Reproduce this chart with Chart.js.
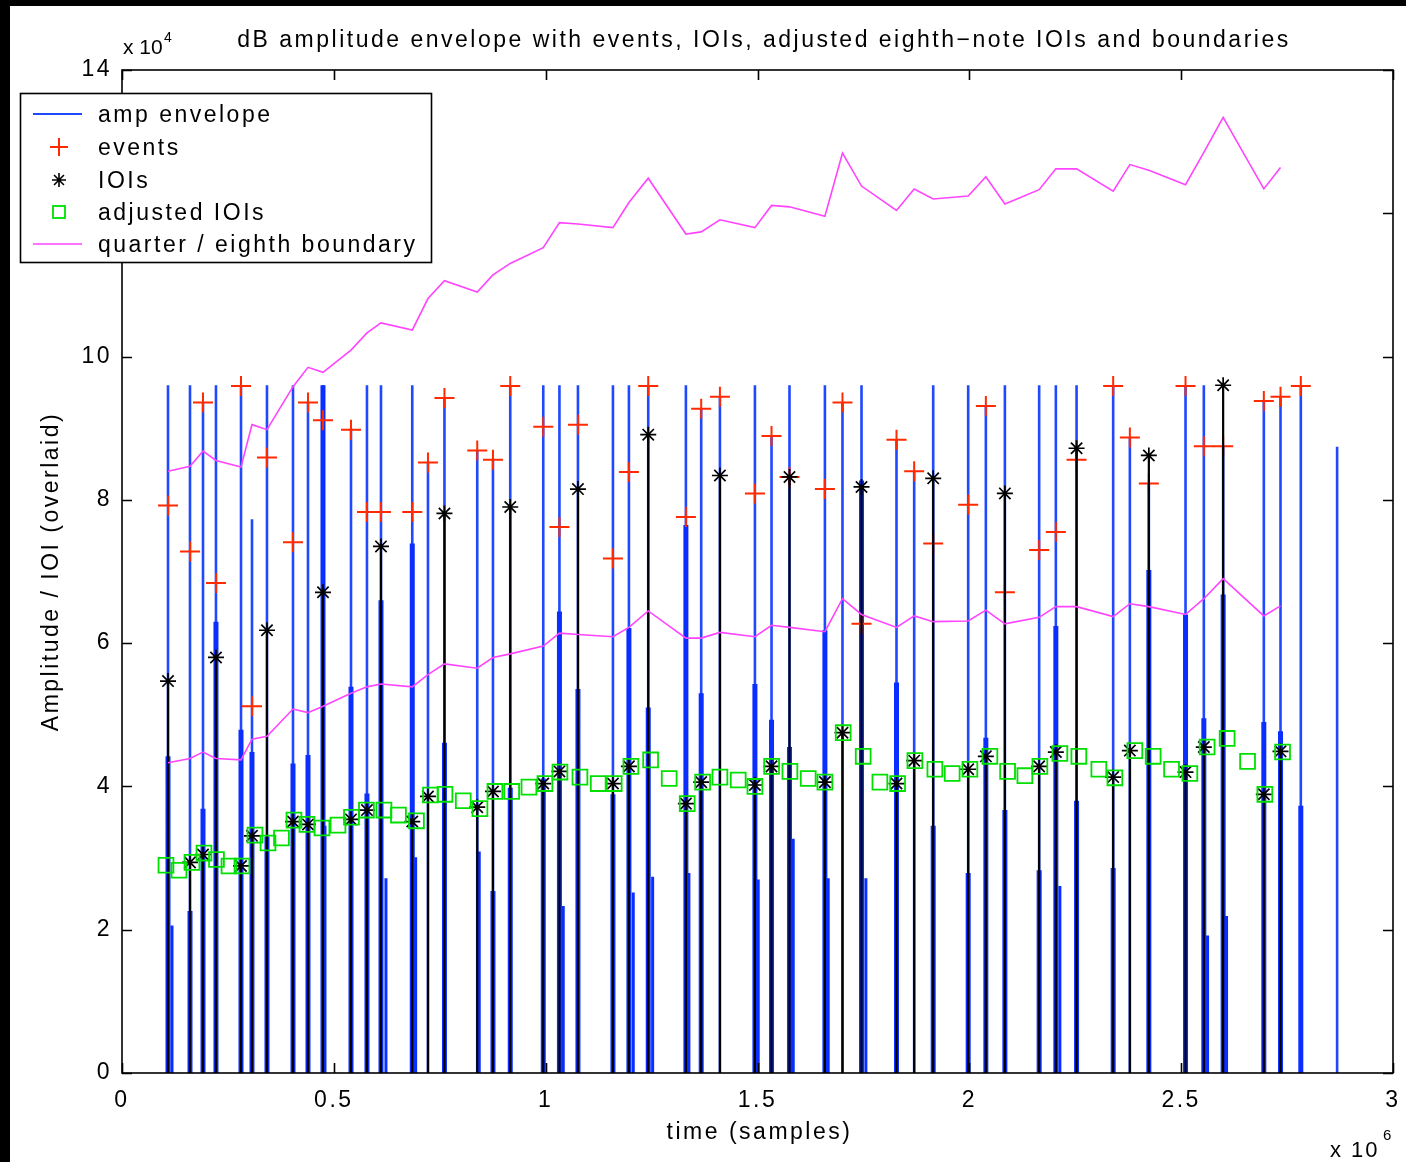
<!DOCTYPE html>
<html>
<head>
<meta charset="utf-8">
<script src="https://cdn.jsdelivr.net/npm/chart.js@4.4.1/dist/chart.umd.min.js"></script>
<style>
  html, body { margin: 0; padding: 0; background: #000; width: 1406px; height: 1162px; overflow: hidden; }
  #wrap { position: absolute; left: 10px; top: 6px; width: 1396px; height: 1156px; background: #fff; }
  canvas { display: block; }
</style>
</head>
<body>
<div id="wrap"><canvas id="c" width="1396" height="1156"></canvas></div>
<script>
// ---- data (time in samples, amplitude / IOI in raw units) ----
const xTickLabels = ['0', '0.5', '1', '1.5', '2', '2.5', '3'];
const yTickLabels = ['0', '2', '4', '6', '8', '10', '12', '14'];

// onsets found in the amplitude envelope
const onsetTimes = [108600, 160500, 191200, 221800, 280900, 306800, 342200, 403600, 439000, 474400,
  540500, 578200, 611300, 685100, 722200, 761100, 838500, 875600, 916400, 994300,
  1032500, 1076200, 1158800, 1196500, 1242100, 1331000, 1367100, 1411300, 1493900, 1533100,
  1575500, 1659100, 1700600, 1745500, 1828100, 1869800, 1914700, 1997300, 2039000, 2083900,
  2164800, 2204200, 2253100, 2339500, 2378900, 2423700, 2510300, 2553500, 2599100, 2695100,
  2734500, 2782400, 2868100];

// envelope peak at each onset
const envPeak = [96000, 96000, 93600, 96000, 96000, 77300, 96000, 96000, 93600, 96000,
  90000, 96000, 96000, 96000, 85300, 94200, 86900, 85600, 96000, 96000,
  96000, 96000, 96000, 96000, 96000, 96000, 92700, 94400, 96000, 88900,
  96000, 96000, 93600, 96000, 88400, 84000, 96000, 96000, 93100, 96000,
  96000, 96000, 96000, 96000, 88700, 82300, 96000, 96000, 87500, 93800,
  94400, 96000, 87400];

// dense decay samples just after each onset (0 = none)
const envBody = [44200, 22600, 36900, 63000, 47900, 44800, 33000, 43200, 44400, 96000,
  53900, 39000, 66000, 73900, 0, 46100, 0, 25400, 39800, 41100,
  64400, 53600, 38900, 62100, 51000, 76500, 53000, 0, 54300, 49300,
  45500, 61800, 0, 82700, 54500, 0, 34500, 27900, 46800, 36700,
  28300, 62400, 38000, 28600, 0, 70200, 64000, 49500, 66800, 49000,
  47700, 37300, 0];

// short secondary envelope bumps
const tailTimes = [118000, 479100, 623000, 693100, 843200, 1041500, 1206700, 1252500, 1338100,
  1501700, 1584300, 1666900, 1755800, 2213700, 2562300, 2607100];
const tailLevels = [20600, 34500, 27200, 30100, 30900, 23300, 25200, 27400, 27900,
  27000, 32700, 27200, 27200, 26100, 19200, 21900];

// detected events (amplitude at detection)
const eventLevels = [79200, 72800, 93600, 68400, 95900, 51200, 85900, 74100, 93600, 91100,
  89800, 78300, 78300, 78300, 85200, 94200, 86900, 85600, 95900, 90200,
  76200, 90500, 71800, 83900, 95900, 77600, 92700, 94400, 80900, 88900,
  83200, 81500, 93600, 62700, 88400, 84000, 73900, 79300, 93100, 67100,
  73000, 75500, 85600, 95900, 88700, 82300, 95900, 87500, 87500, 93800,
  94400, 95900];

// inter-onset intervals, plotted at the onset they start from
const ioiLevels = [54700, 29400, 30500, 58000, 28900, 33100, 61800, 35100, 34700, 67100,
  35400, 36700, 73500, 35100, 38600, 78100, 37100, 39300, 79000, 40400,
  42100, 81500, 40400, 42800, 89100, 37600, 40600, 83400, 40200, 42800,
  83200, 40600, 47500, 81800, 40400, 43600, 83000, 42400, 44200, 80900,
  42800, 44800, 87200, 41300, 45000, 86200, 42000, 45500, 96000, 38900,
  44900];

// IOIs adjusted to eighth notes
const adjTimes = [103800, 134500, 165200, 193500, 223000, 252500, 283200, 313900, 344600, 376400,
  405900, 436600, 472000, 509800, 541600, 577000, 618300, 652500, 695000, 728100,
  762300, 805500, 844900, 880300, 919700, 960500, 998300, 1033700, 1080900, 1124100,
  1161800, 1201200, 1247700, 1291600, 1334100, 1370500, 1411300, 1454500, 1493900, 1533300,
  1576500, 1619700, 1659100, 1702300, 1749500, 1788900, 1830700, 1871500, 1918700, 1959500,
  2001300, 2048500, 2090300, 2131100, 2166500, 2213700, 2258500, 2305700, 2343500, 2390700,
  2433900, 2477300, 2520500, 2561300, 2608500, 2656700, 2697500, 2739300];
const adjLevels = [29000, 28300, 29400, 30700, 29800, 28900, 28900, 33200, 32100, 32800,
  35300, 34700, 34200, 34600, 35700, 36700, 36700, 36000, 35200, 38800,
  38900, 38000, 36900, 39300, 39300, 39900, 40400, 42000, 41300, 40400,
  40400, 42800, 43700, 41100, 37600, 40600, 41300, 40900, 40000, 42800,
  42100, 41100, 40600, 47500, 44200, 40600, 40400, 43600, 42400, 41800,
  42400, 44200, 42100, 41500, 42800, 44600, 44200, 42400, 41200, 45000,
  44200, 42400, 41800, 45500, 46700, 43500, 38900, 44800];

// quarter / eighth boundaries (upper and lower curve)
const boundUpper = [84000, 84700, 86800, 85500, 84600, 90500, 89800, 95800, 98500, 97800,
  100900, 103300, 104700, 103700, 108100, 110600, 109000, 111400, 113000, 115200,
  118700, 118500, 118000, 121500, 124900, 117100, 117400, 119100, 118000, 121100,
  120900, 119600, 128400, 123800, 120400, 123400, 122000, 122400, 125100, 121300,
  123300, 126200, 126200, 123100, 126800, 126000, 124000, 128500, 133400, 123400,
  126400];
const boundLower = [43300, 43900, 44800, 43900, 43700, 46600, 47000, 50800, 50300, 51200,
  53000, 53900, 54300, 53900, 55600, 57100, 56500, 58000, 58500, 59600,
  61400, 61200, 60900, 62200, 64500, 60700, 60700, 61500, 60900, 62500,
  62200, 61600, 66200, 64000, 62200, 63800, 63000, 63100, 64600, 62700,
  63600, 65100, 65100, 63700, 65500, 65100, 64000, 66200, 69000, 63800,
  65200];

const titleText = 'dB amplitude envelope with events, IOIs, adjusted eighth\u2212note IOIs and boundaries';
const xTitle = 'time (samples)';
const yTitle = 'Amplitude / IOI (overlaid)';
const legendLabels = ['amp envelope', 'events', 'IOIs', 'adjusted IOIs', 'quarter / eighth boundary'];

// ---- styling ----
const FONT = '"Liberation Sans", Arial, Helvetica, sans-serif';
const FS = 23;
const LS = '2.5px';
const C_ENV = '#1f48ff', C_ENV_DARK = '#0a2eff', C_EVT = '#ff2a00', C_IOI = '#000000',
      C_ADJ = '#00e000', C_BND = '#ff44ff';

// vertical segments from 0 up to each level, separated by gaps
function stems(times, levels) {
  const pts = [];
  times.forEach((t, i) => {
    if (levels[i] > 0) pts.push({ x: t, y: 0 }, { x: t, y: levels[i] }, { x: t, y: null });
  });
  return pts;
}
const pairs = (times, levels) => levels.map((v, i) => ({ x: times[i], y: v }));

const lineDs = (data, color, width) => ({
  data, showLine: true, borderColor: color, borderWidth: width,
  pointRadius: 0, spanGaps: false, fill: false
});
const pointDs = (data, style, r, color, w) => ({
  data, showLine: false, pointStyle: style, pointRadius: r, pointHoverRadius: r,
  pointBorderColor: color, pointBorderWidth: w, pointBackgroundColor: 'rgba(0,0,0,0)'
});

// bottom-to-top drawing order
const layers = [
  lineDs(stems(onsetTimes, envPeak), C_ENV, 2.6),
  lineDs(stems(tailTimes, tailLevels), C_ENV_DARK, 3),
  lineDs(stems(onsetTimes, envBody), C_ENV_DARK, 5),
  pointDs(pairs(onsetTimes, eventLevels), 'cross', 10, C_EVT, 2),
  lineDs(stems(onsetTimes.slice(0, ioiLevels.length), ioiLevels), C_IOI, 2.2),
  pointDs(pairs(onsetTimes, ioiLevels), 'star', 8, C_IOI, 1.7),
  pointDs(pairs(adjTimes, adjLevels), 'rect', 10.5, C_ADJ, 1.8),
  lineDs(pairs(onsetTimes, boundUpper), C_BND, 1.6),
  lineDs(pairs(onsetTimes, boundLower), C_BND, 1.6)
];
layers.forEach((d, i) => { d.order = layers.length - i; });

const TICK = 10;

const frame = {
  id: 'frame',
  beforeDraw(chart) { chart.ctx.letterSpacing = LS; },
  afterDraw(chart) {
    const { ctx, chartArea: a, scales: { x, y } } = chart;
    ctx.save();
    ctx.letterSpacing = LS;
    // axes box and inward ticks
    ctx.strokeStyle = '#000';
    ctx.lineWidth = 1.6;
    ctx.strokeRect(a.left, a.top, a.right - a.left, a.bottom - a.top);
    ctx.beginPath();
    x.ticks.forEach(t => {
      const px = Math.round(x.getPixelForValue(t.value)) + 0.5;
      ctx.moveTo(px, a.bottom); ctx.lineTo(px, a.bottom - TICK);
      ctx.moveTo(px, a.top); ctx.lineTo(px, a.top + TICK);
    });
    y.ticks.forEach(t => {
      const py = Math.round(y.getPixelForValue(t.value)) + 0.5;
      ctx.moveTo(a.left, py); ctx.lineTo(a.left + TICK, py);
      ctx.moveTo(a.right, py); ctx.lineTo(a.right - TICK, py);
    });
    ctx.stroke();

    // texts
    ctx.fillStyle = '#000';
    ctx.font = FS + 'px ' + FONT;
    ctx.textBaseline = 'alphabetic';
    ctx.textAlign = 'center';
    ctx.fillText(titleText, 754, 41);
    ctx.textBaseline = 'middle';
    ctx.fillText(xTitle, (a.left + a.right) / 2 + 2, 1127);
    ctx.save();
    ctx.translate(42, (a.top + a.bottom) / 2);
    ctx.rotate(-Math.PI / 2);
    ctx.fillText(yTitle, 0, 0);
    ctx.restore();

    // axis multipliers
    ctx.textAlign = 'left';
    ctx.textBaseline = 'alphabetic';
    ctx.letterSpacing = '0px';
    ctx.font = '21px ' + FONT;
    ctx.fillText('x 10', a.left + 1, 48);
    ctx.letterSpacing = '2px';
    ctx.font = '22px ' + FONT;
    ctx.fillText('x 10', 1320, 1151);
    ctx.letterSpacing = '0px';
    ctx.font = '14px ' + FONT;
    ctx.fillText('4', a.left + 42, 36);
    ctx.font = '15px ' + FONT;
    ctx.fillText('6', 1373, 1134);
    ctx.letterSpacing = LS;

    // legend
    const L = { x: 10, y: 87, w: 411, h: 169 };
    ctx.fillStyle = '#fff';
    ctx.fillRect(L.x, L.y, L.w, L.h);
    ctx.lineWidth = 1.6;
    ctx.strokeStyle = '#000';
    ctx.strokeRect(L.x + 0.5, L.y + 0.5, L.w, L.h);
    const rows = [108, 141, 174, 206, 238];
    const mx = 49;
    // line samples
    ctx.lineWidth = 2;
    ctx.strokeStyle = C_ENV;
    ctx.beginPath(); ctx.moveTo(23, rows[0]); ctx.lineTo(72, rows[0]); ctx.stroke();
    ctx.strokeStyle = C_BND;
    ctx.lineWidth = 1.6;
    ctx.beginPath(); ctx.moveTo(23, rows[4]); ctx.lineTo(72, rows[4]); ctx.stroke();
    // plus
    ctx.strokeStyle = C_EVT; ctx.lineWidth = 2;
    ctx.beginPath();
    ctx.moveTo(mx - 9, rows[1]); ctx.lineTo(mx + 9, rows[1]);
    ctx.moveTo(mx, rows[1] - 9); ctx.lineTo(mx, rows[1] + 9);
    ctx.stroke();
    // asterisk
    ctx.strokeStyle = C_IOI; ctx.lineWidth = 1.6;
    ctx.beginPath();
    const r = 7, d = r * Math.SQRT1_2;
    ctx.moveTo(mx - r, rows[2]); ctx.lineTo(mx + r, rows[2]);
    ctx.moveTo(mx, rows[2] - r); ctx.lineTo(mx, rows[2] + r);
    ctx.moveTo(mx - d, rows[2] - d); ctx.lineTo(mx + d, rows[2] + d);
    ctx.moveTo(mx - d, rows[2] + d); ctx.lineTo(mx + d, rows[2] - d);
    ctx.stroke();
    // square
    ctx.strokeStyle = C_ADJ; ctx.lineWidth = 1.8;
    ctx.strokeRect(mx - 6, rows[3] - 6, 12, 12);
    // labels
    ctx.fillStyle = '#000';
    ctx.font = FS + 'px ' + FONT;
    ctx.textBaseline = 'alphabetic';
    ctx.textAlign = 'left';
    legendLabels.forEach((s, i) => ctx.fillText(s, 88, rows[i] + 8));
    ctx.restore();
  }
};

// keep the plot box at a fixed size: no extra room for overhanging edge labels
function fixBox(size, key) {
  return s => {
    s[key] = size;
    s.paddingLeft = 0; s.paddingRight = 0; s.paddingTop = 0; s.paddingBottom = 0;
  };
}

new Chart(document.getElementById('c'), {
  type: 'scatter',
  data: { datasets: layers },
  options: {
    responsive: false,
    animation: false,
    events: [],
    layout: { padding: { top: 64, right: 13, bottom: 0, left: 0 } },
    plugins: { legend: { display: false }, tooltip: { enabled: false }, title: { display: false } },
    elements: { line: { tension: 0 } },
    scales: {
      x: {
        type: 'linear', min: 0, max: 3000000,
        afterFit: fixBox(89, 'height'),
        grid: { display: false, drawTicks: false },
        border: { display: false },
        ticks: {
          stepSize: 500000, padding: 14, color: '#000', maxRotation: 0, autoSkip: false,
          font: { family: FONT, size: FS },
          callback: (v, i) => xTickLabels[i]
        }
      },
      y: {
        type: 'linear', min: 0, max: 140000,
        afterFit: fixBox(112, 'width'),
        grid: { display: false, drawTicks: false },
        border: { display: false },
        ticks: {
          stepSize: 20000, padding: 10, color: '#000', autoSkip: false,
          font: { family: FONT, size: FS },
          callback: (v, i) => yTickLabels[i]
        }
      }
    }
  },
  plugins: [frame]
});
</script>
</body>
</html>
